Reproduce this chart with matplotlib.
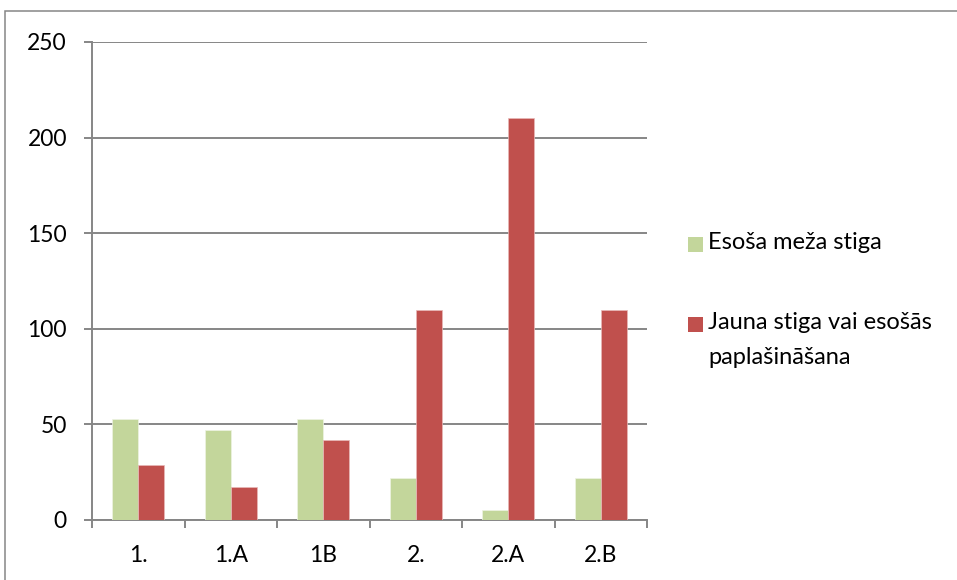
import matplotlib.pyplot as plt
import matplotlib.patches as mpatches
import numpy as np

# Dati
kategorijas = ["1.", "1.A", "1B", "2.", "2.A", "2.B"]
esosa = [53, 47, 53, 22, 5, 22]
jauna = [29, 17, 42, 110, 210, 110]
nosaukumi = ["Esoša meža stiga", "Jauna stiga vai esošās\npaplašināšana"]
krasas = ["#C3D69B", "#C0504D"]
y_ticks = [0, 50, 100, 150, 200, 250]

plt.rcParams['font.family'] = ['Lato', 'DejaVu Sans']
pel = "#868686"

fig = plt.figure(figsize=(9.57, 5.8), dpi=100)
ax = fig.add_axes([92 / 957, 60 / 580, 555 / 957, 478 / 580])

x = np.arange(len(kategorijas))
w = 0.283
ax.bar(x - w / 2, esosa, w, color=krasas[0], edgecolor="#EEF3E2", linewidth=0.5, zorder=3)
ax.bar(x + w / 2, jauna, w, color=krasas[1], edgecolor="#E8B9B8", linewidth=0.5, zorder=3)

ax.set_xlim(-0.5, len(kategorijas) - 0.5)
ax.set_ylim(0, 250)
ax.set_yticks(y_ticks)
ax.set_xticks(x)
ax.set_xticklabels(kategorijas)
ax.set_xticks(np.arange(-0.5, len(kategorijas)), minor=True)

ax.grid(axis="y", color=pel, linewidth=1.4, zorder=0)
ax.set_axisbelow(True)
for s in ["top", "right"]:
    ax.spines[s].set_visible(False)
for s in ["left", "bottom"]:
    ax.spines[s].set_color(pel)
    ax.spines[s].set_linewidth(1.4)

ax.tick_params(axis="y", length=6, width=1.4, color=pel, pad=12, labelsize=16.5)
ax.tick_params(axis="x", which="major", length=0, pad=18, labelsize=16.5)
ax.tick_params(axis="x", which="minor", length=6, width=1.4, color=pel)

# Leģenda (manuāli, lai sakristu izkārtojums)
leg_y = [244, 324]
for i in range(2):
    y0 = 1 - leg_y[i] / 580
    fig.patches.append(mpatches.Rectangle((688 / 957, y0 - 7.5 / 580), 15 / 957, 15 / 580,
                                          transform=fig.transFigure, facecolor=krasas[i],
                                          edgecolor="none"))
    fig.text(708 / 957, y0 + 12 / 580, nosaukumi[i], fontsize=17, va="top", ha="left",
             linespacing=1.85)

# Rāmis
fig.patches.append(mpatches.Rectangle((5 / 957, -0.1), 1, 1.1 - 11 / 580, transform=fig.transFigure,
                                      facecolor="none", edgecolor=pel, linewidth=1.1))

fig.savefig("out.png", dpi=100)
